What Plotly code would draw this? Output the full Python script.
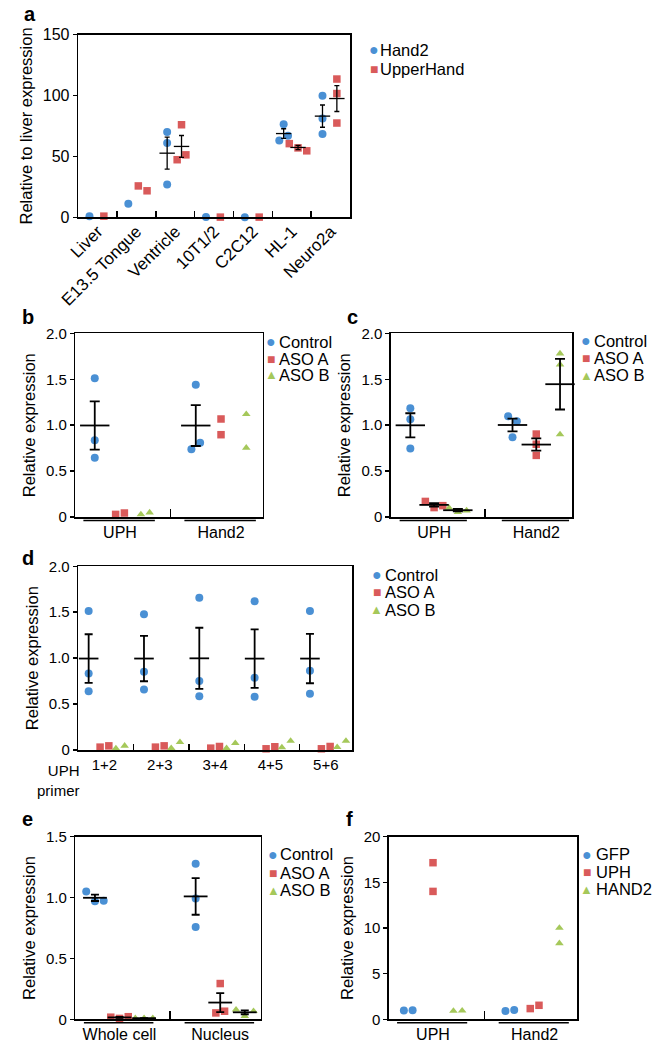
import numpy as np
import plotly.graph_objects as go

# -------------------------------------------------------------------
# data (one inner list = replicates of one group)
# -------------------------------------------------------------------
A_CATEGORIES = ["Liver", "E13.5 Tongue", "Ventricle", "10T1/2", "C2C12", "HL-1", "Neuro2a"]
A_SERIES = ["Hand2", "UpperHand"]
A_HAND2 = [[1.0], [11.2], [70, 61, 27], [0.2], [0.1], [63, 76.3, 67], [99.7, 81.2, 68.3]]
A_UPPERHAND = [[1.0], [25.8, 21.8], [76, 47.3, 51.3], [0.2], [0.2], [60.5, 57, 54.6], [113.5, 101.6, 77.4]]

KD_SERIES = ["Control", "ASO A", "ASO B"]

B_CATEGORIES = ["UPH", "Hand2"]
B_CONTROL = [[1.51, 0.836, 0.646], [1.44, 0.74, 0.81]]
B_ASO_A = [[0.03, 0.045], [1.068, 0.897]]
B_ASO_B = [[0.03, 0.05], [1.12, 0.755]]

C_CATEGORIES = ["UPH", "Hand2"]
C_CONTROL = [[1.186, 1.065, 0.747], [1.097, 0.868, 1.043]]
C_ASO_A = [[0.171, 0.104, 0.125], [0.904, 0.672, 0.793]]
C_ASO_B = [[0.10, 0.054, 0.072], [1.78, 1.66, 0.90]]

D_CATEGORIES = ["1+2", "2+3", "3+4", "4+5", "5+6"]
D_CONTROL = [[1.513, 0.834, 0.641], [1.477, 0.852, 0.659], [1.657, 0.751, 0.587],
             [1.62, 0.787, 0.579], [1.513, 0.862, 0.612]]
D_ASO_A = [[0.032, 0.046], [0.032, 0.046], [0.021, 0.039], [0.014, 0.036], [0.014, 0.039]]
D_ASO_B = [[0.018, 0.046], [0.021, 0.086], [0.021, 0.075], [0.029, 0.1], [0.032, 0.1]]

E_CATEGORIES = ["Whole cell", "Nucleus"]
E_CONTROL = [[1.05, 0.97, 0.973], [1.278, 0.991, 0.758]]
E_ASO_A = [[0.018, 0.008, 0.022], [0.053, 0.294, 0.067]]
E_ASO_B = [[0.01, 0.01, 0.01], [0.08, 0.027, 0.067]]

F_CATEGORIES = ["UPH", "Hand2"]
F_SERIES = ["GFP", "UPH", "HAND2"]
F_GFP = [[0.97, 1.0], [0.93, 1.04]]
F_UPH = [[17.14, 14.0], [1.18, 1.54]]
F_HAND2 = [[0.92, 0.95], [10.0, 8.32]]

# -------------------------------------------------------------------
# styles
# -------------------------------------------------------------------
W, H = 652, 1050
FONT = "Liberation Sans, Arial, Helvetica, sans-serif"
LW = 1.5
STYLES = [  # color, marker symbol, marker size, legend glyph, glyph size
    ("#4a90d4", "circle", 8, "●", 16),
    ("#d95a5a", "square", 7.5, "■", 14),
    ("#a5c85a", "triangle-up", 7.5, "▲", 13),
]

PANELS = [
    dict(label="a", label_pos=(3, 13), box=(61, 341, 26, 212), xrange=(-0.5, 6.5),
         yrange=(0, 150), yticks=[0, 50, 100, 150], yticktext=["0", "50", "100", "150"],
         categories=A_CATEGORIES, centers=list(range(7)), col_offsets=[-0.21, 0.16],
         boundaries=[k + 0.5 for k in range(6)], boundary_len=6,
         series=list(zip(A_SERIES, [A_HAND2, A_UPPERHAND])), tickangle=-45, tick_font=16,
         cat_font=17, cat_standoff=-4,
         ytitle="Relative to liver expression", legend=(365.7, 371, [41.7, 61]),
         bar=(11, 2.5, 1.3), group_lines=False),
    dict(label="b", label_pos=(1, 322), box=(58, 251, 330, 517), xrange=(-0.77, 6.65),
         yrange=(0, 2), yticks=[0, 0.5, 1, 1.5, 2], yticktext=["0", "0.5", "1.0", "1.5", "2.0"],
         categories=B_CATEGORIES, centers=[1, 5], col_offsets=[-1, 0, 1],
         boundaries=[3], boundary_len=8,
         series=list(zip(KD_SERIES, [B_CONTROL, B_ASO_A, B_ASO_B])), tickangle=0, tick_font=15,
         cat_font=16, cat_standoff=0,
         ytitle="Relative expression", legend=(260, 267, [338.3, 356, 372]),
         bar=(21, 5, 1.8), group_lines=True),
    dict(label="c", label_pos=(336, 322), box=(383, 570, 330, 517), xrange=(-0.82, 6.82),
         yrange=(0, 2), yticks=[0, 0.5, 1, 1.5, 2], yticktext=["0", "0.5", "1.0", "1.5", "2.0"],
         categories=C_CATEGORIES, centers=[1, 5.3], col_offsets=[-1, 0, 1],
         boundaries=[3.15], boundary_len=8,
         series=list(zip(KD_SERIES, [C_CONTROL, C_ASO_A, C_ASO_B])), tickangle=0, tick_font=15,
         cat_font=16, cat_standoff=0,
         ytitle="Relative expression", legend=(584.3, 591, [337.3, 355, 372.7]),
         bar=(21, 5, 1.8), group_lines=True),
    dict(label="d", label_pos=(1, 567), box=(61, 343, 567, 754), xrange=(-0.66, 16.66),
         yrange=(0, 2), yticks=[0, 0.5, 1, 1.5, 2], yticktext=["0", "0.5", "1.0", "1.5", "2.0"],
         categories=D_CATEGORIES, centers=[1 + 3.5 * k for k in range(5)], col_offsets=[-1, 0, 1],
         boundaries=[2.85 + 3.5 * k for k in range(4)], boundary_len=6,
         series=list(zip(KD_SERIES, [D_CONTROL, D_ASO_A, D_ASO_B])), tickangle=0, tick_font=15,
         cat_font=15, cat_standoff=0,
         ytitle="Relative expression", legend=(368.3, 376, [575.7, 593.3, 611]),
         bar=(14, 4, 1.8), group_lines=False),
    dict(label="e", label_pos=(1, 832), box=(58, 249, 842, 1028), xrange=(-0.8, 6.75),
         yrange=(0, 1.5), yticks=[0, 0.5, 1, 1.5], yticktext=["0", "0.5", "1.0", "1.5"],
         categories=E_CATEGORIES, centers=[1, 5.1], col_offsets=[-1, 0, 1],
         boundaries=[3.05], boundary_len=8,
         series=list(zip(KD_SERIES, [E_CONTROL, E_ASO_A, E_ASO_B])), tickangle=0, tick_font=15,
         cat_font=16, cat_standoff=0,
         ytitle="Relative expression", legend=(261.7, 268, [860, 879, 896.7]),
         bar=(17, 4, 1.8), group_lines=True),
    dict(label="f", label_pos=(335, 832), box=(381, 575, 842, 1028), xrange=(-0.78, 6.82),
         yrange=(0, 20), yticks=[0, 5, 10, 15, 20], yticktext=["0", "5", "10", "15", "20"],
         categories=F_CATEGORIES, centers=[1, 5.1], col_offsets=[-1, 0, 1],
         boundaries=[3.07], boundary_len=8,
         series=list(zip(F_SERIES, [F_GFP, F_UPH, F_HAND2])), tickangle=0, tick_font=15,
         cat_font=16, cat_standoff=0,
         ytitle="Relative expression", legend=(585, 593, [860, 878.3, 895.7]),
         bar=None, group_lines=True),
]


def paper_x(px):
    return px / W


def paper_y(px):
    return 1 - px / H


# -------------------------------------------------------------------
# points that would sit on top of each other get spread sideways
# (like the scatter-dot layout of the original figure)
# -------------------------------------------------------------------
def swarm_offsets(values, y_px_per_unit, threshold_px=10, step_px=9):
    order = sorted(range(len(values)), key=lambda i: values[i])
    clusters = []
    for i in order:
        if clusters and (values[i] - values[clusters[-1][-1]]) * y_px_per_unit < threshold_px:
            clusters[-1].append(i)
        else:
            clusters.append([i])
    offsets = [0.0] * len(values)
    for cluster in clusters:
        cluster = sorted(cluster)
        for j, i in enumerate(cluster):
            offsets[i] = (j - (len(cluster) - 1) / 2) * step_px
    return offsets


fig = go.Figure()
annotations = []
shapes = []
axes = {}

for n, p in enumerate(PANELS, start=1):
    xname = "x" if n == 1 else f"x{n}"
    yname = "y" if n == 1 else f"y{n}"
    x0, x1, ytop, ybot = p["box"]
    x_px = (x1 - x0) / (p["xrange"][1] - p["xrange"][0])
    y_px = (ybot - ytop) / (p["yrange"][1] - p["yrange"][0])

    bar_traces = []
    for s_idx, (name, groups) in enumerate(p["series"]):
        color, symbol, msize, glyph, gsize = STYLES[s_idx]
        xs, ys, bx, by, be = [], [], [], [], []
        for c_idx, vals in enumerate(groups):
            col_x = p["centers"][c_idx] + p["col_offsets"][s_idx]
            offs = swarm_offsets(vals, y_px)
            xs += [col_x + o / x_px for o in offs]
            ys += list(vals)
            if p["bar"] and len(vals) >= 3:
                arr = np.array(vals, dtype=float)
                bx.append(col_x)
                by.append(arr.mean())
                be.append(arr.std(ddof=1) / np.sqrt(len(arr)))
        fig.add_trace(go.Scatter(
            x=xs, y=ys, mode="markers", name=name, xaxis=xname, yaxis=yname,
            marker=dict(symbol=symbol, size=msize, color=color, line=dict(width=0)),
            cliponaxis=False, showlegend=False,
        ))
        if bx:
            bar_len, cap, thick = p["bar"]
            bar_traces.append(go.Scatter(
                x=bx, y=by, mode="markers", xaxis=xname, yaxis=yname, showlegend=False,
                marker=dict(symbol="line-ew", size=bar_len, color="black",
                            line=dict(width=thick, color="black")),
                error_y=dict(type="data", array=be, width=cap, thickness=thick, color="black"),
                cliponaxis=False,
            ))

        # legend: glyph + label
        mx, tx, rows = p["legend"]
        annotations.append(dict(
            x=paper_x(mx), y=paper_y(rows[s_idx]), xref="paper", yref="paper",
            text=glyph, showarrow=False, xanchor="center", yanchor="middle", borderpad=0,
            font=dict(size=gsize, color=color, family=FONT),
        ))
        annotations.append(dict(
            x=paper_x(tx), y=paper_y(rows[s_idx]), xref="paper", yref="paper",
            text=name, showarrow=False, xanchor="left", yanchor="middle", borderpad=0,
            font=dict(size=16.5, color="black", family=FONT),
        ))

    for tr in bar_traces:
        fig.add_trace(tr)

    axes["xaxis" if n == 1 else f"xaxis{n}"] = dict(
        domain=[paper_x(x0), paper_x(x1)], range=list(p["xrange"]), anchor=yname,
        showline=True, linewidth=LW, linecolor="black", mirror=True,
        ticks="", tickvals=p["centers"], ticktext=p["categories"], tickangle=p["tickangle"],
        tickfont=dict(size=p["cat_font"], color="black", family=FONT),
        ticklabelstandoff=p["cat_standoff"],
        showgrid=False, zeroline=False, fixedrange=True,
        minor=dict(tickvals=p["boundaries"], ticks="inside", ticklen=p["boundary_len"],
                   tickwidth=LW, tickcolor="black", showgrid=False),
    )
    axes["yaxis" if n == 1 else f"yaxis{n}"] = dict(
        domain=[paper_y(ybot), paper_y(ytop)], range=list(p["yrange"]), anchor=xname,
        showline=True, linewidth=LW, linecolor="black", mirror=True,
        ticks="outside", ticklen=4, tickwidth=LW, tickcolor="black",
        tickvals=p["yticks"], ticktext=p["yticktext"],
        tickfont=dict(size=p["tick_font"], color="black", family=FONT),
        title=dict(text=p["ytitle"], standoff=6, font=dict(size=16.5, color="black", family=FONT)),
        showgrid=False, zeroline=False, fixedrange=True,
    )

    # lines under the category groups
    if p["group_lines"]:
        for c in p["centers"]:
            shapes.append(dict(
                type="line", xref=xname, yref=f"{yname} domain",
                x0=c - 1.45, x1=c + 1.38, y0=-0.018, y1=-0.018,
                line=dict(color="black", width=LW),
            ))

    # panel letter
    lx, lbase = p["label_pos"]
    annotations.append(dict(
        x=paper_x(lx), y=paper_y(lbase + 5), xref="paper", yref="paper",
        text=f"<b>{p['label']}</b>", showarrow=False, xanchor="left", yanchor="bottom",
        font=dict(size=20, color="black", family=FONT),
    ))

# "UPH primer" row label of panel d (one right-aligned two-line text)
annotations.append(dict(
    x=paper_x(64), y=paper_y(765), xref="paper", yref="paper",
    text="UPH<br>primer", showarrow=False, xanchor="right", yanchor="top",
    align="right", borderpad=0,
    font=dict(size=15, color="black", family=FONT),
))

fig.update_layout(
    width=W, height=H,
    margin=dict(l=0, r=0, t=0, b=0),
    paper_bgcolor="white", plot_bgcolor="white",
    font=dict(family=FONT, color="black"),
    showlegend=False,
    annotations=annotations,
    shapes=shapes,
    **axes,
)

# drop the page's default body margin so the figure fills the window exactly
fig.write_html(
    "out.html",
    config={"displayModeBar": False, "staticPlot": True},
    post_script="document.body.style.margin='0px';document.body.style.overflow='hidden';",
)
